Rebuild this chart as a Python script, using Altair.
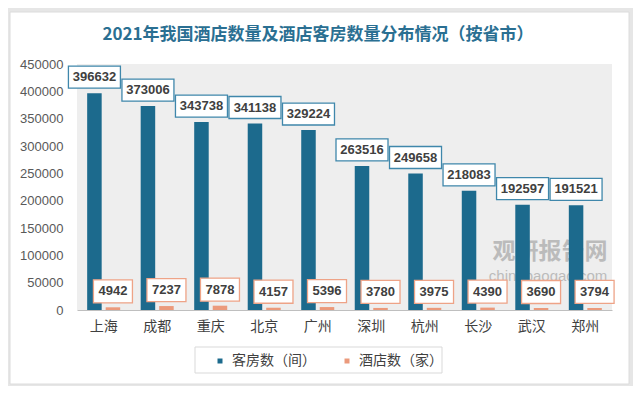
import altair as alt
import pandas as pd

cities = ["上海", "成都", "重庆", "北京", "广州", "深圳", "杭州", "长沙", "武汉", "郑州"]
rooms = [396632, 373006, 343738, 341138, 329224, 263516, 249658, 218083, 192597, 191521]
hotels = [4942, 7237, 7878, 4157, 5396, 3780, 3975, 4390, 3690, 3794]
series_names = ["客房数（间）", "酒店数（家）"]
title_text = "2021年我国酒店数量及酒店客房数量分布情况（按省市）"
y_ticks = [0, 50000, 100000, 150000, 200000, 250000, 300000, 350000, 400000, 450000]

BLUE = "#1c6a8d"
ORANGE = "#eb9a7c"
CJK = "Noto Sans CJK SC"
NUM = "Liberation Sans"

rows = []
for c, r, h in zip(cities, rooms, hotels):
    rows.append({"city": c, "series": series_names[0], "value": r})
    rows.append({"city": c, "series": series_names[1], "value": h})
df = pd.DataFrame(rows)

W, H = 535, 246

x_enc = alt.X("city:N", sort=cities,
              scale=alt.Scale(paddingInner=0.383, paddingOuter=0.19),
              axis=alt.Axis(title=None, labelAngle=0, labelFont=CJK, labelFontSize=14,
                            labelColor="#404040", ticks=False, domainColor="#bfbfbf",
                            domainWidth=1, labelPadding=9, grid=False, zindex=1))
xo_enc = alt.XOffset("series:N", sort=series_names,
                     scale=alt.Scale(domain=series_names, paddingInner=0.216, paddingOuter=0))
y_enc = alt.Y("value:Q", scale=alt.Scale(domain=[0, 450000], nice=False),
              axis=alt.Axis(title=None, values=y_ticks, format="d", labelFont=NUM,
                            labelFontSize=13, labelColor="#595959", ticks=False, domain=False,
                            grid=False, labelPadding=14, zindex=1))

one = pd.DataFrame({"k": [0]})

# card background
card = alt.Chart(one).mark_rect(fill="white", stroke="#dcdcdc", strokeWidth=1).encode(
    x=alt.value(-67), x2=alt.value(552), y=alt.value(-52), y2=alt.value(320))

# plot background (light hatch tone)
plotbg = alt.Chart(one).mark_rect(fill="#eeeeee").encode(
    x=alt.value(0), x2=alt.value(W), y=alt.value(0), y2=alt.value(H))

title = alt.Chart(one).mark_text(text=title_text, font=CJK, fontSize=17, fontWeight="bold",
                                 color="#2a6f92", align="center", baseline="middle").encode(
    x=alt.value(241), y=alt.value(-29))

# watermark
wm1 = alt.Chart(one).mark_text(text="观研报告网", font=CJK, fontSize=23, fontWeight="bold",
                               color="#8a8a8a", opacity=0.5).encode(
    x=alt.value(473), y=alt.value(188))
wm2 = alt.Chart(one).mark_text(text="chinabaogao.com", font=NUM, fontSize=15,
                               color="#8a8a8a", opacity=0.5).encode(
    x=alt.value(471), y=alt.value(212))

bars = alt.Chart(df).mark_bar().encode(
    x=x_enc, xOffset=xo_enc, y=y_enc,
    color=alt.Color("series:N", sort=series_names,
                    scale=alt.Scale(domain=series_names, range=[BLUE, ORANGE]),
                    legend=alt.Legend(title=None, orient="none", direction="horizontal",
                                      legendX=136, legendY=290, symbolType="square",
                                      symbolSize=25, labelFont=CJK, labelFontSize=14,
                                      labelColor="#404040", columnPadding=24,
                                      labelOffset=5, padding=0)))

box_blue = alt.Chart(df).transform_filter(alt.datum.series == series_names[0]).mark_point(
    shape="M-1,-0.423H1V0.423H-1Z", size=2704, filled=False, fill="white", fillOpacity=1,
    stroke="#3f87ab", strokeWidth=1.3, opacity=1, yOffset=-16).encode(
    x=x_enc, xOffset=xo_enc, y=y_enc)
box_orange = alt.Chart(df).transform_filter(alt.datum.series == series_names[1]).mark_point(
    shape="M-1,-0.59H1V0.59H-1Z", size=1521, filled=False, fill="white", fillOpacity=1,
    stroke="#eea387", strokeWidth=1.3, opacity=1, yOffset=-16).encode(
    x=x_enc, xOffset=xo_enc, y=y_enc)
labels = alt.Chart(df).mark_text(font=NUM, fontSize=13, fontWeight="bold", color="#404040",
                                 dy=-16, baseline="middle").encode(
    x=x_enc, xOffset=xo_enc, y=y_enc, text=alt.Text("value:Q", format="d"))

legend_box = alt.Chart(one).mark_rect(fill="white", stroke="#d9d9d9", strokeWidth=1).encode(
    x=alt.value(118), x2=alt.value(365), y=alt.value(283), y2=alt.value(309))

chart = alt.layer(card, plotbg, title, wm1, wm2, legend_box, bars, box_blue, box_orange,
                  labels).properties(
    width=W, height=H,
    background="#e6e6e6",
    padding={"left": 69, "top": 56, "right": 21, "bottom": 76},
    autosize=alt.AutoSizeParams(type="none"),
).configure_view(stroke=None)

chart.save("out.html", embed_options={"renderer": "svg", "actions": False})
